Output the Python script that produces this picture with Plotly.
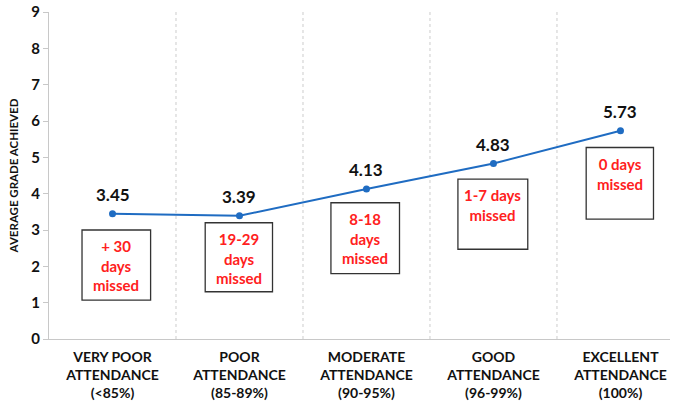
import plotly.graph_objects as go

# attendance bands and mean grade
categories = [
    "VERY POOR<br>ATTENDANCE<br>(<85%)",
    "POOR<br>ATTENDANCE<br>(85-89%)",
    "MODERATE<br>ATTENDANCE<br>(90-95%)",
    "GOOD<br>ATTENDANCE<br>(96-99%)",
    "EXCELLENT<br>ATTENDANCE<br>(100%)",
]
avg_grade = [3.45, 3.39, 4.13, 4.83, 5.73]
days_missed = [
    "+ 30<br>days<br>missed",
    "19-29<br>days<br>missed",
    "8-18<br>days<br>missed",
    "1-7 days<br>missed",
    "0 days<br>missed",
]

# callout box extents (x offsets from category centre, y in grade units)
box_x = [(-0.24, 0.30), (-0.27, 0.26), (-0.28, 0.26), (-0.28, 0.27), (-0.27, 0.26)]
box_y = [(1.07, 3.0), (1.3, 3.2), (1.8, 3.75), (2.47, 4.4), (3.3, 5.27)]

FONT = "Lato, 'Open Sans', sans-serif"
xs = list(range(len(categories)))

fig = go.Figure()
fig.add_trace(go.Scatter(
    x=xs, y=avg_grade, mode="lines+markers",
    line=dict(color="#1f6cc2", width=2),
    marker=dict(color="#1f6cc2", size=7),
    cliponaxis=False, showlegend=False,
))

shapes = []
annotations = []
for i, v in enumerate(avg_grade):
    annotations.append(dict(x=i, y=v, xref="x", yref="y", text=f"{v:.2f}", showarrow=False,
                            yanchor="bottom", yshift=7,
                            font=dict(family=FONT, size=17, color="#111111", weight="bold")))
for i, (txt, (x0, x1), (y0, y1)) in enumerate(zip(days_missed, box_x, box_y)):
    shapes.append(dict(type="rect", xref="x", yref="y", x0=i + x0, x1=i + x1, y0=y0, y1=y1,
                       line=dict(color="#333333", width=1.3), fillcolor="white", layer="below"))
    annotations.append(dict(x=i + (x0 + x1) / 2, y=y1, xref="x", yref="y", text=txt,
                            showarrow=False, yanchor="top", yshift=-5, align="center",
                            font=dict(family=FONT, size=15, color="#ff2020", weight="bold")))

# dotted separators between bands
for b in range(len(categories) - 1):
    shapes.append(dict(type="line", xref="x", yref="paper", x0=b + 0.5, x1=b + 0.5, y0=0, y1=1,
                       line=dict(color="#cccccc", width=1, dash="dot"), layer="below"))

fig.update_layout(
    width=675, height=406,
    margin=dict(l=49, r=5, t=12, b=67),
    plot_bgcolor="white", paper_bgcolor="white",
    shapes=shapes, annotations=annotations,
    xaxis=dict(range=[-0.5, 4.39], tickvals=xs, ticktext=categories, showgrid=False,
               showline=True, linecolor="#c8c8c8", ticks="", zeroline=False, automargin=False,
               ticklabelstandoff=5,
               tickfont=dict(family=FONT, size=14, color="#111111", weight="bold")),
    yaxis=dict(range=[0, 9], dtick=1, showgrid=False, zeroline=False, automargin=False,
               showline=True, linecolor="#c8c8c8", ticks="outside", ticklen=5, tickcolor="#c8c8c8",
               tickfont=dict(family=FONT, size=15, color="#111111", weight="bold"),
               title=dict(text="AVERAGE GRADE ACHIEVED", standoff=10,
                          font=dict(family=FONT, size=11.5, color="#111111", weight="bold"))),
)

# page body has an 8px default margin; drop it so the figure fills the window
fig.write_html("out.html", config={"displayModeBar": False},
               post_script="document.body.style.margin='0';")
